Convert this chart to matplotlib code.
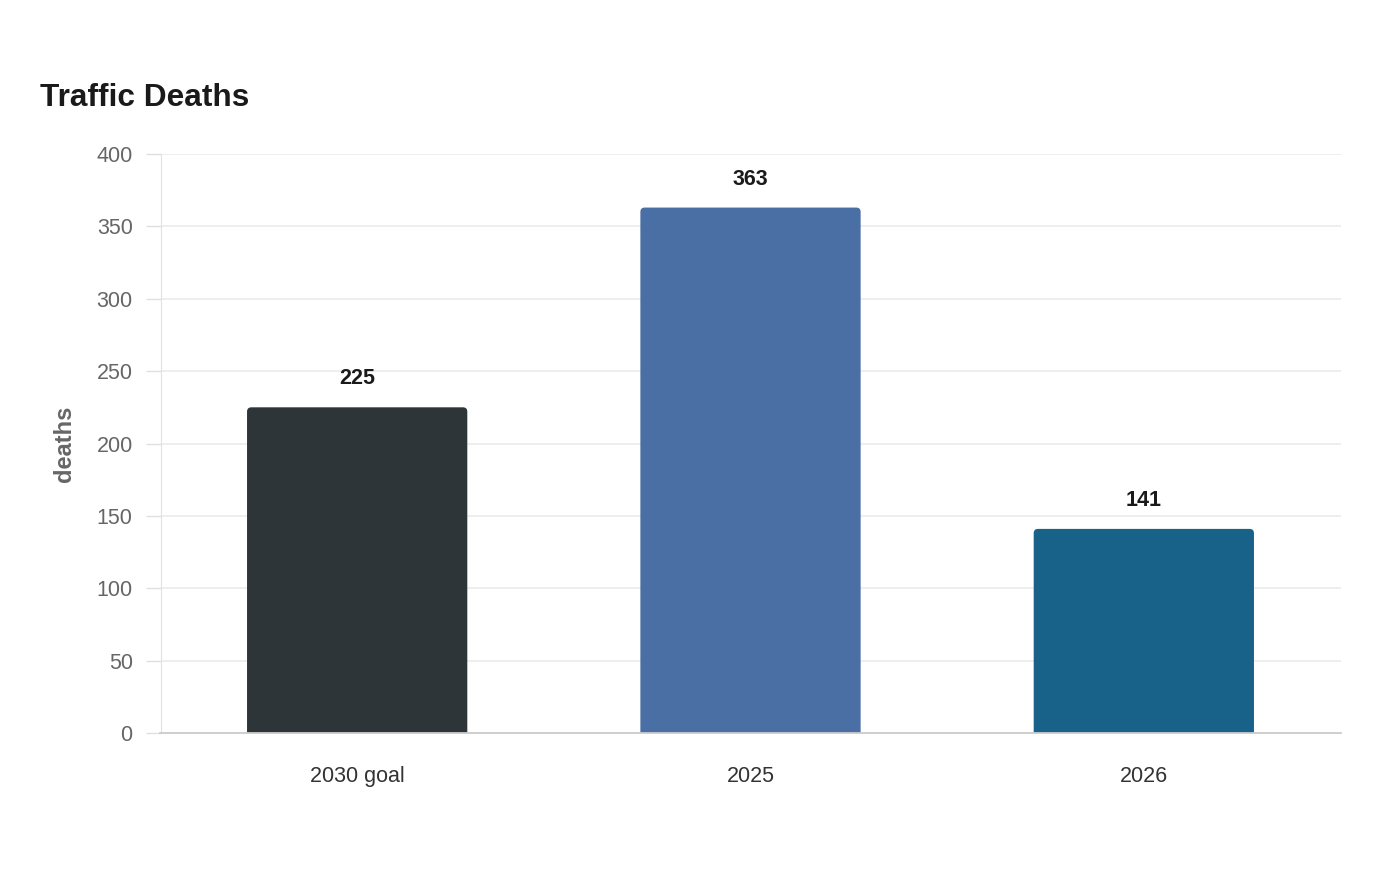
import matplotlib.pyplot as plt
from matplotlib.patches import FancyBboxPatch

plt.rcParams['font.family'] = ['Liberation Sans', 'DejaVu Sans']

categories = ['2030 goal', '2025', '2026']
deaths = [225, 363, 141]
bar_colors = ['#2e3538', '#4a6fa5', '#186289']

fig = plt.figure(figsize=(14, 8.8), dpi=100)
ax = fig.add_axes([160.5 / 1400, 147 / 880, 1180 / 1400, 579 / 880])

x = list(range(len(categories)))
bars = ax.bar(x, deaths, width=0.56, color=bar_colors, zorder=2)

ax.set_xlim(-0.5, 2.5)
ax.set_ylim(0, 400)

# swap plain bars for ones with slightly rounded tops (bottom is clipped off)
aspect = (400 / 579) / (3 / 1180)
for b in bars:
    x0, w, h = b.get_x(), b.get_width(), b.get_height()
    b.set_visible(False)
    ax.add_patch(FancyBboxPatch((x0, -10), w, h + 10,
                                boxstyle='round,pad=0,rounding_size=0.011',
                                mutation_aspect=aspect, fc=b.get_facecolor(),
                                ec='none', zorder=2))

for xi, v in zip(x, deaths):
    ax.annotate(str(v), (xi, v), xytext=(0, 20.5), textcoords='offset points',
                ha='center', va='center', fontsize=15.5, fontweight='bold', color='#1a1a1a')

ax.set_yticks(range(0, 401, 50))
ax.set_xticks(x)
ax.set_xticklabels(categories)
ax.grid(axis='y', color='#ebebeb', lw=1.2, zorder=0)
ax.tick_params(axis='y', length=11, color='#e0e0e0', width=1, pad=9,
               labelsize=15.5, labelcolor='#666666')
ax.tick_params(axis='x', length=0, pad=23.5, labelsize=15.5, labelcolor='#333333')

for s in ['top', 'right']:
    ax.spines[s].set_visible(False)
ax.spines['left'].set_color('#e2e2e2')
ax.spines['bottom'].set_color('#cccccc')
ax.spines['bottom'].set_linewidth(1.3)

ax.set_ylabel('deaths', fontsize=17, fontweight='bold', color='#666666', labelpad=15)

fig.text(40 / 1400, 1 - 98 / 880, 'Traffic Deaths', fontsize=22.8, fontweight='bold',
         color='#1a1a1a', ha='left', va='center')

fig.savefig('out.png', dpi=100)
